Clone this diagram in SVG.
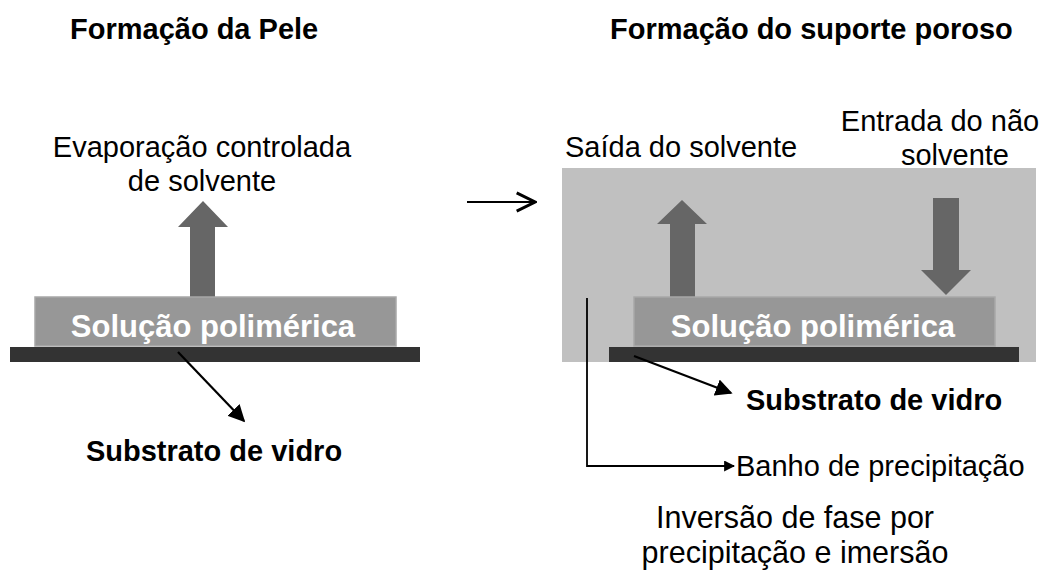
<svg xmlns="http://www.w3.org/2000/svg" width="1056" height="580" viewBox="0 0 1056 580">
<style>
text{font-family:"Liberation Sans",Arial,sans-serif;fill:#000}
.t{font-size:29px;font-weight:bold}
.r{font-size:29px}
.c{font-size:30.5px}
.s{font-size:29px;font-weight:bold}
.sol{font-size:31px;font-weight:bold;fill:#fff}
.film{fill:#979797;stroke:#a8a8a8;stroke-width:1.5}
.bar{fill:#333}
.bigarrow{fill:#666}
.ln{stroke:#000;stroke-width:2.2;fill:none}
.thin{stroke:#000;stroke-width:1.8;fill:none}
</style>
<defs>
<marker id="ah" viewBox="0 0 10 10" refX="9" refY="5" markerWidth="11" markerHeight="11" orient="auto" markerUnits="userSpaceOnUse">
<path d="M0,0 L10,5 L0,10 z" fill="#000"/>
</marker>
<marker id="ahbig" viewBox="0 0 10 10" refX="9" refY="5" markerWidth="17" markerHeight="17" orient="auto" markerUnits="userSpaceOnUse">
<path d="M0,0 L10,5 L0,10 z" fill="#000"/>
</marker>
<marker id="chev" viewBox="0 0 12 12" refX="11" refY="6" markerWidth="22" markerHeight="22" orient="auto" markerUnits="userSpaceOnUse">
<path d="M1,1 L11,6 L1,11" fill="none" stroke="#000" stroke-width="1.6"/>
</marker>
</defs>

<g id="titles">
<text class="t" x="70" y="39">Formação da Pele</text>
<text class="t" x="610" y="39">Formação do suporte poroso</text>
</g>

<g id="bath">
<rect x="562" y="168" width="474" height="194" fill="#c0c0c0"/>
</g>

<g id="left-evaporation">
<text class="r" x="202" y="157" text-anchor="middle">Evaporação controlada</text>
<text class="r" x="202" y="191" text-anchor="middle">de solvente</text>
<polygon class="bigarrow" points="190,298 215,298 215,227 228,227 203,201 178,227 190,227"/>
</g>

<g id="left-solution">
<rect class="film" x="35" y="297" width="361" height="49"/>
<text class="sol" x="213" y="337" text-anchor="middle">Solução polimérica</text>
</g>

<g id="left-substrate">
<rect class="bar" x="10" y="347" width="410" height="15"/>
</g>

<g id="left-substrate-label">
<text class="s" x="214" y="461" text-anchor="middle">Substrato de vidro</text>
</g>

<g id="right-out">
<text class="r" x="565" y="157">Saída do solvente</text>
<polygon class="bigarrow" points="670,298 695,298 695,224 707,224 682,200 657,224 670,224"/>
</g>

<g id="right-in">
<text class="r" x="940" y="131" text-anchor="middle">Entrada do não</text>
<text class="r" x="955" y="165" text-anchor="middle">solvente</text>
<polygon class="bigarrow" points="933,198 959,198 959,270 971,270 946,295 921,270 933,270"/>
</g>

<g id="right-solution">
<rect class="film" x="634" y="297" width="361" height="49"/>
<text class="sol" x="813" y="337" text-anchor="middle">Solução polimérica</text>
</g>

<g id="right-substrate">
<rect class="bar" x="609" y="347" width="410" height="15"/>
</g>

<g id="right-substrate-label">
<text class="s" x="746" y="410">Substrato de vidro</text>
</g>

<g id="bath-label">
<text class="r" x="736" y="476">Banho de precipitação</text>
</g>

<g id="caption">
<text class="c" x="795" y="528" text-anchor="middle">Inversão de fase por</text>
<text class="c" x="795" y="563" text-anchor="middle">precipitação e imersão</text>
</g>

<g id="connectors">
<line class="ln" x1="178" y1="352" x2="244" y2="421" marker-end="url(#ahbig)"/>
<line class="ln" x1="467" y1="202" x2="535" y2="202" stroke-width="2.6" marker-end="url(#chev)"/>
<line class="ln" x1="634" y1="356" x2="731" y2="393" marker-end="url(#ahbig)"/>
<polyline class="thin" points="587,298 587,466 734,466" marker-end="url(#ah)"/>
</g>
</svg>
